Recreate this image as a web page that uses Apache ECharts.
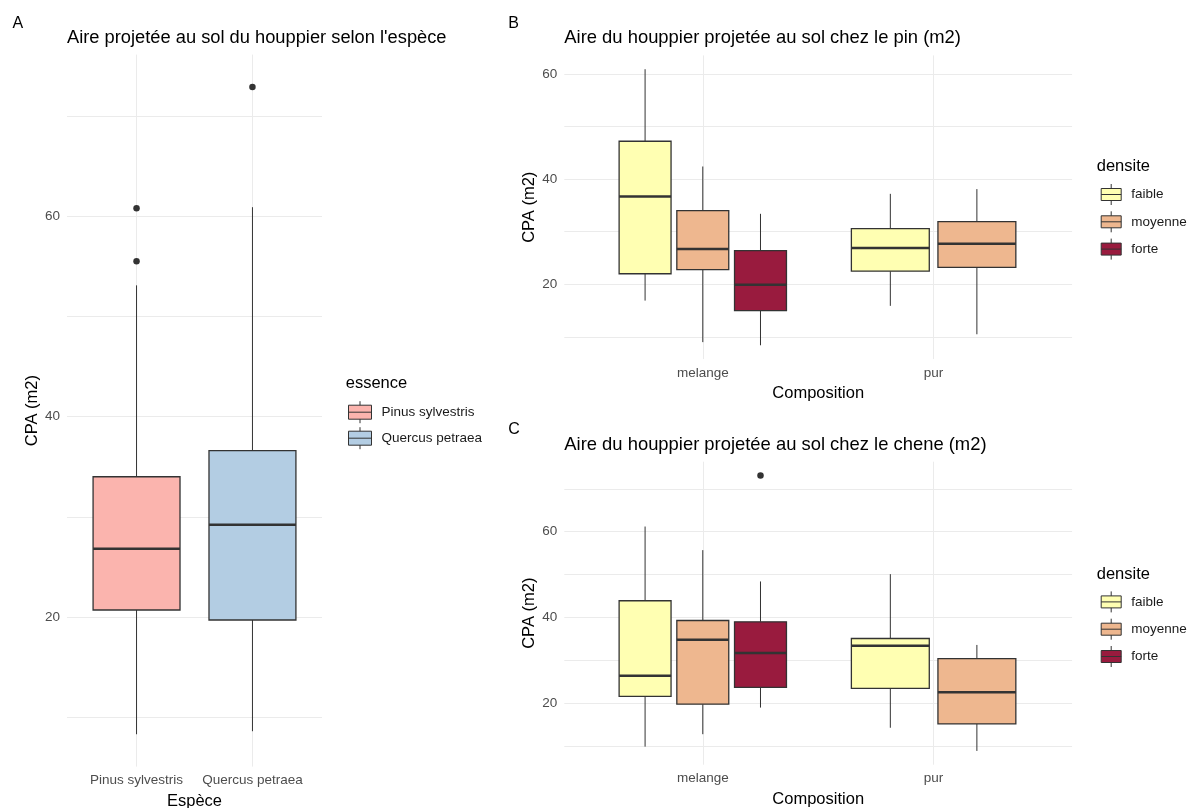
<!DOCTYPE html>
<html>
<head>
<meta charset="utf-8">
<title>CPA – aire du houppier projetée au sol</title>
<script src="https://cdn.jsdelivr.net/npm/echarts@6/dist/echarts.min.js"></script>
<style>
  html, body { margin: 0; padding: 0; background: #ffffff; }
  #chart { width: 1188px; height: 808px; }
</style>
</head>
<body>
<div id="chart"></div>
<script>
// ---------------------------------------------------------------
// Box statistics: [lower whisker, Q1, median, Q3, upper whisker]
// ---------------------------------------------------------------

// Panel A – by species
const especes = ['Pinus sylvestris', 'Quercus petraea'];
const statsPinus = [8.3, 20.7, 26.8, 34.0, 53.1];
const statsQuercus = [8.6, 19.7, 29.2, 36.6, 60.9];
const outliersPinus = [60.8, 55.5];
const outliersQuercus = [72.9];

// Panels B and C – by composition, one entry per composition (null = no trees)
const compositions = ['melange', 'pur'];
const densites = ['faible', 'moyenne', 'forte'];

const pinFaible = [[16.9, 22.0, 36.7, 47.2, 60.9], [15.9, 22.5, 26.9, 30.6, 37.2]];
const pinMoyenne = [[9.0, 22.8, 26.7, 34.0, 42.4], [10.5, 23.2, 27.7, 31.9, 38.1]];
const pinForte = [[8.4, 15.0, 19.9, 26.4, 33.4], null];
const pinOutliers = [[[], []], [[], []], [[], []]];

const cheneFaible = [[9.9, 21.6, 26.4, 43.9, 61.2], [14.3, 23.5, 33.4, 35.1, 50.1]];
const cheneMoyenne = [[12.8, 19.8, 34.8, 39.3, 55.7], [8.9, 15.2, 22.6, 30.4, 33.6]];
const cheneForte = [[19.0, 23.7, 31.7, 39.0, 48.4], null];
const cheneOutliers = [[[], []], [[], []], [[73.1], []]];

// Axis breaks
const ticksEspece = [10, 20, 30, 40, 50, 60, 70];
const ticksPin = [10, 20, 30, 40, 50, 60];
const ticksChene = [10, 20, 30, 40, 50, 60, 70];
const labelsCPA = [20, 40, 60];

// ---------------------------------------------------------------
const FONT = 'Liberation Sans, Arial, Helvetica, sans-serif';
const couleursEspece = ['#FBB4AE', '#B3CDE3'];
const couleursDensite = ['#FFFFB2', '#EEB78F', '#991B3E'];
const GRID_LINE = '#ebebeb';
const INK = '#333333';

// y range = data range expanded by 5 % on both sides
function expandedRange(values) {
  const lo = Math.min.apply(null, values);
  const hi = Math.max.apply(null, values);
  const pad = (hi - lo) * 0.05;
  return [lo - pad, hi + pad];
}
function flatten(a) { return [].concat.apply([], a.map(v => Array.isArray(v) ? flatten(v) : (v == null ? [] : [v]))); }

// Side-by-side placement of the boxes present at composition k
function dodgeLayout(statsByGroup, k) {
  const present = statsByGroup.map(s => s[k] != null);
  const n = present.filter(Boolean).length;
  const slot = 0.75 / n;
  let j = 0;
  return present.map(p => {
    if (!p) return null;
    const off = (j - (n - 1) / 2) * slot;
    j++;
    return { offset: off, width: slot * 0.9 };
  });
}

function renderBox(params, api) {
  const x = api.value(0);
  const w = api.value(6);
  const half = api.size([w, 0])[0] / 2;
  const cx = api.coord([x, api.value(3)])[0];
  const yLo = api.coord([x, api.value(1)])[1];
  const yQ1 = api.coord([x, api.value(2)])[1];
  const yMed = api.coord([x, api.value(3)])[1];
  const yQ3 = api.coord([x, api.value(4)])[1];
  const yHi = api.coord([x, api.value(5)])[1];
  const fill = api.visual('color');
  return {
    type: 'group',
    children: [
      { type: 'line', shape: { x1: cx, y1: yHi, x2: cx, y2: yQ3 }, style: { stroke: INK, lineWidth: 1 } },
      { type: 'line', shape: { x1: cx, y1: yQ1, x2: cx, y2: yLo }, style: { stroke: INK, lineWidth: 1 } },
      { type: 'rect', shape: { x: cx - half, y: yQ3, width: 2 * half, height: yQ1 - yQ3 },
        style: { fill: fill, stroke: INK, lineWidth: 1.3 } },
      { type: 'line', shape: { x1: cx - half, y1: yMed, x2: cx + half, y2: yMed },
        style: { stroke: INK, lineWidth: 2.5 } }
    ]
  };
}

function boxSeries(name, color, data, axisIndex) {
  return {
    type: 'custom', name: name,
    xAxisIndex: axisIndex, yAxisIndex: axisIndex,
    itemStyle: { color: color },
    encode: { x: 0, y: [1, 2, 3, 4, 5] },
    renderItem: renderBox,
    data: data, z: 3, clip: false
  };
}
function pointSeries(points, axisIndex) {
  return {
    type: 'scatter', xAxisIndex: axisIndex, yAxisIndex: axisIndex,
    symbol: 'circle', symbolSize: 6.5,
    itemStyle: { color: INK, opacity: 1 },
    data: points, z: 4, silent: true
  };
}

function groupedSeries(statsByGroup, outliersByGroup, axisIndex) {
  const layouts = compositions.map((c, k) => dodgeLayout(statsByGroup, k));
  const out = [];
  densites.forEach((d, i) => {
    const data = [];
    const pts = [];
    compositions.forEach((c, k) => {
      const s = statsByGroup[i][k];
      if (!s) return;
      const L = layouts[k][i];
      const x = k + 1 + L.offset;
      data.push([x].concat(s, [L.width]));
      outliersByGroup[i][k].forEach(v => pts.push([x, v]));
    });
    out.push(boxSeries(d, couleursDensite[i], data, axisIndex));
    if (pts.length) out.push(pointSeries(pts, axisIndex));
  });
  return out;
}

function xAxisFor(gridIndex, cats, name) {
  return {
    type: 'value', gridIndex: gridIndex, min: 0.4, max: cats.length + 0.6,
    name: name, nameLocation: 'middle', nameGap: 26,
    nameTextStyle: { fontSize: 16.5, color: '#000', fontFamily: FONT },
    axisLine: { show: false },
    axisTick: { show: false, customValues: cats.map((c, i) => i + 1) },
    axisLabel: {
      customValues: cats.map((c, i) => i + 1),
      formatter: v => cats[Math.round(v) - 1],
      fontSize: 13.5, color: '#4d4d4d', margin: 7, fontFamily: FONT
    },
    splitLine: { show: true, lineStyle: { color: GRID_LINE, width: 1 } }
  };
}
function yAxisFor(gridIndex, range, ticks, gap) {
  return {
    type: 'value', gridIndex: gridIndex, min: range[0], max: range[1],
    name: 'CPA (m2)', nameLocation: 'middle', nameGap: gap,
    nameTextStyle: { fontSize: 16.5, color: '#000', fontFamily: FONT },
    axisLine: { show: false },
    axisTick: { show: false, customValues: ticks },
    axisLabel: { customValues: labelsCPA, fontSize: 13.5, color: '#4d4d4d', margin: 7, fontFamily: FONT },
    splitLine: { show: true, lineStyle: { color: GRID_LINE, width: 1 } }
  };
}

// ---------- series ----------
const series = [];
[statsPinus, statsQuercus].forEach((s, i) => {
  series.push(boxSeries(especes[i], couleursEspece[i], [[i + 1].concat(s, [0.75])], 0));
});
series.push(pointSeries(
  outliersPinus.map(v => [1, v]).concat(outliersQuercus.map(v => [2, v])), 0));

const statsPin = [pinFaible, pinMoyenne, pinForte];
const statsChene = [cheneFaible, cheneMoyenne, cheneForte];
groupedSeries(statsPin, pinOutliers, 1).forEach(s => series.push(s));
groupedSeries(statsChene, cheneOutliers, 2).forEach(s => series.push(s));

const rangeA = expandedRange(flatten([statsPinus, statsQuercus, outliersPinus, outliersQuercus]));
const rangeB = expandedRange(flatten([statsPin, pinOutliers]));
const rangeC = expandedRange(flatten([statsChene, cheneOutliers]));

// boxplot-shaped legend keys
const keyA = 'path://M0,4L23,4L23,18L0,18Z M0,11L23,11 M11.5,0L11.5,4 M11.5,18L11.5,22';
const keyB = 'path://M0,4.5L20,4.5L20,16.5L0,16.5Z M0,10.5L20,10.5 M10,0L10,4.5 M10,16.5L10,21';

function legendFor(names, key, left, top, w, h, gap) {
  return {
    data: names, orient: 'vertical', left: left, top: top, padding: 0,
    icon: key, itemWidth: w, itemHeight: h, itemGap: gap,
    itemStyle: { borderColor: INK, borderWidth: 1 },
    textStyle: { fontSize: 13.5, color: '#1a1a1a', fontFamily: FONT, padding: [0, 0, 0, 5] },
    selectedMode: false
  };
}

function label(text, x, y, size) {
  return {
    type: 'text', x: x, y: y, silent: true,
    style: { text: text, fontSize: size, fontFamily: FONT, fill: '#000',
             textAlign: 'left', textVerticalAlign: 'middle' }
  };
}

const option = {
  animation: false,
  backgroundColor: '#ffffff',
  grid: [
    { left: 67, top: 54.6, width: 255, height: 712, outerBoundsMode: 'none' },
    { left: 564.3, top: 55.4, width: 507.8, height: 303.7, outerBoundsMode: 'none' },
    { left: 564.3, top: 461.7, width: 507.8, height: 303, outerBoundsMode: 'none' }
  ],
  xAxis: [
    xAxisFor(0, especes, 'Espèce'),
    xAxisFor(1, compositions, 'Composition'),
    xAxisFor(2, compositions, 'Composition')
  ],
  yAxis: [
    yAxisFor(0, rangeA, ticksEspece, 24),
    yAxisFor(1, rangeB, ticksPin, 25),
    yAxisFor(2, rangeC, ticksChene, 25)
  ],
  legend: [
    legendFor(especes, keyA, 348, 400.7, 23, 22, 3),
    legendFor(densites, keyB, 1100.7, 183.5, 20, 21, 5.3),
    legendFor(densites, keyB, 1100.7, 590.9, 20, 21, 5.3)
  ],
  graphic: [
    label('A', 12.5, 23.5, 16),
    label("Aire projetée au sol du houppier selon l'espèce", 67, 37.5, 18.3),
    label('B', 508.3, 23.5, 16),
    label('Aire du houppier projetée au sol chez le pin (m2)', 564.3, 37.5, 18.4),
    label('C', 508.3, 430, 16),
    label('Aire du houppier projetée au sol chez le chene (m2)', 564.3, 444.5, 18.4),
    label('essence', 345.7, 383.3, 16.5),
    label('densite', 1096.7, 166.7, 16.5),
    label('densite', 1096.7, 574, 16.5)
  ],
  series: series
};

const chart = echarts.init(document.getElementById('chart'), null, { renderer: 'canvas' });
chart.setOption(option);
</script>
</body>
</html>
